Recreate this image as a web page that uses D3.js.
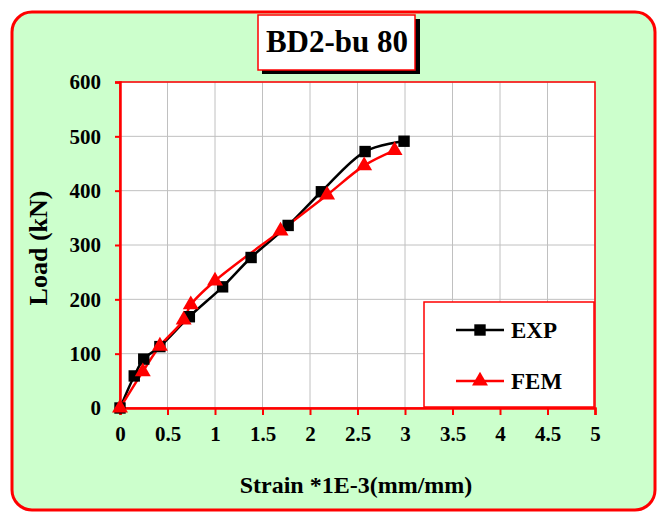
<!DOCTYPE html>
<html lang="en">
<head>
  <meta charset="UTF-8">
  <title>BD2-bu 80</title>
  <style>
    body { margin: 0; background: #ffffff; }
    svg text { font-family: 'Liberation Serif', 'Times New Roman', serif; font-weight: bold; }
  </style>
</head>
<body>
  <div id="chart"></div>
  <script src="https://d3js.org/d3.v7.min.js"></script>
  <script>
    // Load-strain data
    const expStrain = [0, 0.15, 0.25, 0.42, 0.73, 1.08, 1.38, 1.77, 2.12, 2.58, 2.99];
    const expLoad   = [0, 59, 90, 113, 168, 223, 277, 336, 398, 472, 491];
    const femStrain = [0, 0.24, 0.42, 0.67, 0.745, 1.0, 1.69, 2.18, 2.57, 2.89];
    const femLoad   = [0, 67, 114, 162, 190, 234, 326, 392, 446, 474];
    const xTicks = [0, 0.5, 1, 1.5, 2, 2.5, 3, 3.5, 4, 4.5, 5];
    const yTicks = [0, 100, 200, 300, 400, 500, 600];

    const width = 658, height = 513;
    const plot = { left: 120, right: 595, top: 82, bottom: 408 };

    const svg = d3.select('#chart').append('svg')
      .attr('width', width)
      .attr('height', height);

    // outer rounded frame
    svg.append('rect')
      .attr('x', 12).attr('y', 12)
      .attr('width', 643).attr('height', 498)
      .attr('rx', 20)
      .attr('fill', '#ccffcc')
      .attr('stroke', '#ff0000')
      .attr('stroke-width', 3);

    const x = d3.scaleLinear().domain([0, 5]).range([plot.left, plot.right]);
    const y = d3.scaleLinear().domain([0, 600]).range([plot.bottom, plot.top]);

    // plot area
    svg.append('rect')
      .attr('x', plot.left).attr('y', plot.top)
      .attr('width', plot.right - plot.left)
      .attr('height', plot.bottom - plot.top)
      .attr('fill', '#ffffff');

    // gridlines
    svg.append('g').selectAll('line')
      .data(xTicks.slice(1))
      .enter().append('line')
      .attr('x1', d => x(d)).attr('x2', d => x(d))
      .attr('y1', plot.top).attr('y2', plot.bottom)
      .attr('stroke', '#c0c0c0').attr('stroke-width', 1);

    svg.append('g').selectAll('line')
      .data(yTicks.slice(1))
      .enter().append('line')
      .attr('x1', plot.left).attr('x2', plot.right)
      .attr('y1', d => y(d)).attr('y2', d => y(d))
      .attr('stroke', '#c0c0c0').attr('stroke-width', 1);

    // plot border (top and right)
    svg.append('rect')
      .attr('x', plot.left).attr('y', plot.top)
      .attr('width', plot.right - plot.left)
      .attr('height', plot.bottom - plot.top)
      .attr('fill', 'none')
      .attr('stroke', '#ff0000').attr('stroke-width', 1.5);

    // axes
    const xAxis = svg.append('g')
      .attr('transform', `translate(0,${plot.bottom})`)
      .call(d3.axisBottom(x).tickValues(xTicks).tickSize(7).tickPadding(11).tickFormat(d3.format('')));
    const yAxis = svg.append('g')
      .attr('transform', `translate(${plot.left},0)`)
      .call(d3.axisLeft(y).tickValues(yTicks).tickSize(5).tickPadding(14));

    [xAxis, yAxis].forEach(a => {
      a.select('.domain').attr('stroke', '#ff0000').attr('stroke-width', 2.5);
      a.selectAll('.tick line').attr('stroke', '#ff0000').attr('stroke-width', 2);
      a.selectAll('.tick text')
        .attr('fill', '#000')
        .style('font-size', '21px')
        .style('font-family', "'Liberation Serif', serif")
        .style('font-weight', 'bold');
    });

    // series lines
    const line = d3.line()
      .x(d => x(d[0]))
      .y(d => y(d[1]))
      .curve(d3.curveCatmullRom.alpha(0.5));

    const expData = expStrain.map((s, i) => [s, expLoad[i]]);
    const femData = femStrain.map((s, i) => [s, femLoad[i]]);

    svg.append('path')
      .datum(expData)
      .attr('d', line)
      .attr('fill', 'none')
      .attr('stroke', '#000000')
      .attr('stroke-width', 2.5);

    svg.append('path')
      .datum(femData)
      .attr('d', line)
      .attr('fill', 'none')
      .attr('stroke', '#ff0000')
      .attr('stroke-width', 2.5);

    const square = d3.symbol().type(d3.symbolSquare).size(130);
    const triangle = d3.symbol().type(d3.symbolTriangle).size(110);

    svg.append('g').selectAll('path')
      .data(expData)
      .enter().append('path')
      .attr('d', square)
      .attr('transform', d => `translate(${x(d[0])},${y(d[1])})`)
      .attr('fill', '#000000');

    svg.append('g').selectAll('path')
      .data(femData)
      .enter().append('path')
      .attr('d', triangle)
      .attr('transform', d => `translate(${x(d[0])},${y(d[1])})`)
      .attr('fill', '#ff0000');

    // legend
    const legend = svg.append('g');
    legend.append('rect')
      .attr('x', 424).attr('y', 302)
      .attr('width', 170).attr('height', 105)
      .attr('fill', '#ffffff')
      .attr('stroke', '#ff0000').attr('stroke-width', 1.5);

    const legendItems = [
      { name: 'EXP', color: '#000000', sym: square, y: 330 },
      { name: 'FEM', color: '#ff0000', sym: triangle, y: 381 }
    ];
    legendItems.forEach(it => {
      legend.append('line')
        .attr('x1', 456).attr('x2', 504)
        .attr('y1', it.y).attr('y2', it.y)
        .attr('stroke', it.color).attr('stroke-width', 2.5);
      legend.append('path')
        .attr('d', it.sym)
        .attr('transform', `translate(480,${it.y})`)
        .attr('fill', it.color);
      legend.append('text')
        .attr('x', 511).attr('y', it.y + 8)
        .attr('font-size', 23)
        .attr('fill', '#000')
        .text(it.name);
    });

    // title box with shadow
    svg.append('rect')
      .attr('x', 262).attr('y', 19)
      .attr('width', 158).attr('height', 55)
      .attr('fill', '#000000');
    svg.append('rect')
      .attr('x', 258).attr('y', 15)
      .attr('width', 157).attr('height', 55)
      .attr('fill', '#ffffff')
      .attr('stroke', '#ff0000').attr('stroke-width', 1.5);
    svg.append('text')
      .attr('x', 337).attr('y', 52)
      .attr('text-anchor', 'middle')
      .attr('font-size', 31)
      .attr('fill', '#000')
      .text('BD2-bu 80');

    // axis titles
    svg.append('text')
      .attr('x', 356).attr('y', 493)
      .attr('text-anchor', 'middle')
      .attr('font-size', 24)
      .attr('fill', '#000')
      .text('Strain *1E-3(mm/mm)');

    svg.append('text')
      .attr('transform', 'translate(47,248) rotate(-90)')
      .attr('text-anchor', 'middle')
      .attr('font-size', 26)
      .attr('fill', '#000')
      .text('Load (kN)');
  </script>
</body>
</html>
